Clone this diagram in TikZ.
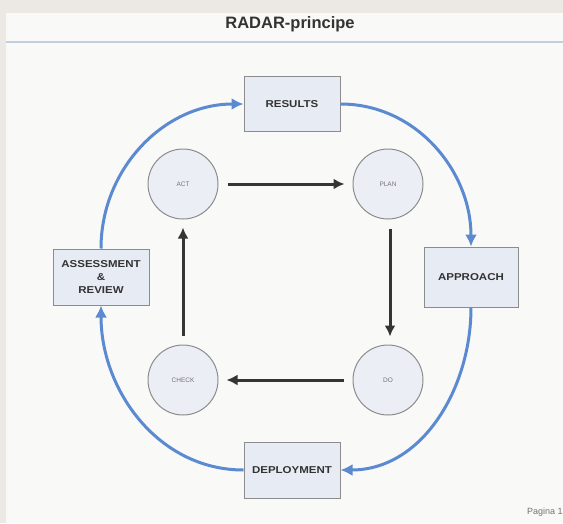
\documentclass[tikz,border=0pt]{standalone}
\usepackage{fontspec}
\setmainfont{Liberation Sans}
\newfontfamily\boxfont{Liberation Sans}[FakeStretch=1.15]
\usetikzlibrary{arrows.meta}
\definecolor{outerbg}{HTML}{ECE9E4}
\definecolor{pagebg}{HTML}{F9F9F7}
\definecolor{rule}{HTML}{C3CEDF}
\definecolor{boxfill}{HTML}{E7EBF4}
\definecolor{circfill}{HTML}{ECEEF6}
\definecolor{edgegray}{HTML}{8C8C8C}
\definecolor{radarblue}{HTML}{5B8AD0}
\definecolor{darkarrow}{HTML}{353535}
\definecolor{txt}{HTML}{333333}
\tikzset{
  stagebox/.style={draw=edgegray, line width=1pt, fill=boxfill, inner sep=0pt,
    text=txt, align=center, font=\boxfont\bfseries\fontsize{10}{13}\selectfont},
  pdcacirc/.style={circle, draw=edgegray, line width=1pt, fill=circfill, minimum size=70pt,
    inner sep=0pt, text=black!55, font=\fontsize{6.5}{7}\selectfont},
  bluearrow/.style={draw=radarblue, line width=3pt, -{Latex[length=12pt,width=12pt]}},
  darkarr/.style={draw=darkarrow, line width=3pt, -{Latex[length=11pt,width=11pt]},
    shorten <=9pt, shorten >=8pt}
}
\begin{document}
\begin{tikzpicture}[x=1pt,y=-1pt]
\useasboundingbox (0,0) rectangle (563,523);
\clip (0,0) rectangle (563,523);
\fill[outerbg] (0,0) rectangle (563,523);
\fill[pagebg] (6,13) rectangle (563,523);
\draw[rule, line width=2pt] (6,42) -- (563,42);
\node[text=txt, font=\bfseries\fontsize{16.5}{18}\selectfont] (title) at (290,24) {RADAR-principe};

\node[stagebox, minimum width=96pt, minimum height=55pt] (results) at (292,104) {RESULTS};
\node[stagebox, minimum width=94pt, minimum height=60pt] (approach) at (471,277) {APPROACH};
\node[stagebox, minimum width=96pt, minimum height=56pt] (deploy) at (292,470) {DEPLOYMENT};
\node[stagebox, minimum width=96pt, minimum height=56pt] (assess) at (101,277) {ASSESSMENT\\\&\\REVIEW};

\node[pdcacirc] (act) at (183,184) {ACT};
\node[pdcacirc] (plan) at (388,184) {PLAN};
\node[pdcacirc] (check) at (183,380) {CHECK};
\node[pdcacirc] (do) at (388,380) {DO};

\draw[darkarr] (act) -- (plan);
\draw[darkarr] ([xshift=2pt]plan.south) -- ([xshift=2pt]do.north);
\draw[darkarr] (do) -- (check);
\draw[darkarr] (check) -- (act);

\draw[bluearrow] (assess.north) to[out=90,in=180] (results.west);
\draw[bluearrow] (results.east) to[out=0,in=90] (approach.north);
\draw[bluearrow] (approach.south) to[out=-90,in=0] (deploy.east);
\draw[bluearrow] (deploy.west) to[out=180,in=-90] (assess.south);

\node[anchor=west, text=black!55, font=\fontsize{9}{10}\selectfont, inner sep=0pt] (pagina) at (527,512) {Pagina 1};
\end{tikzpicture}
\end{document}
